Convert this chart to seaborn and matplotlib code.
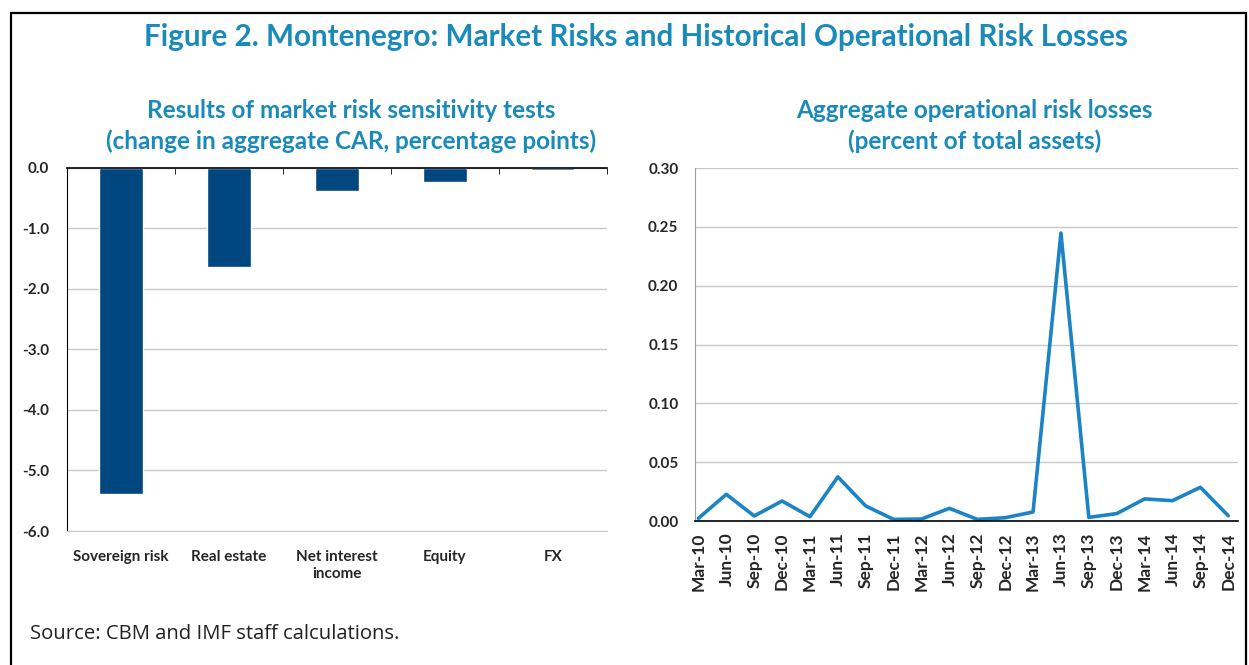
import numpy as np
import seaborn as sns
import matplotlib.pyplot as plt
from matplotlib.patches import Rectangle

# data
risk_types = ["Sovereign risk", "Real estate", "Net interest\nincome", "Equity", "FX"]
car_change = [-5.39, -1.64, -0.38, -0.23, -0.03]

quarters = ["Mar-10", "Jun-10", "Sep-10", "Dec-10", "Mar-11", "Jun-11", "Sep-11", "Dec-11",
            "Mar-12", "Jun-12", "Sep-12", "Dec-12", "Mar-13", "Jun-13", "Sep-13", "Dec-13",
            "Mar-14", "Jun-14", "Sep-14", "Dec-14"]
op_losses = [0.0023, 0.0227, 0.0043, 0.0170, 0.0037, 0.0375, 0.0128, 0.0014,
             0.0017, 0.0108, 0.0014, 0.0028, 0.0077, 0.2447, 0.0031, 0.0063,
             0.0188, 0.0173, 0.0287, 0.0045]

sns.set_style("white")
plt.rcParams['font.family'] = ['Lato', 'DejaVu Sans']

title_col = "#1a8abb"
bar_col = "#00467f"
line_col = "#1b84c4"
grid_col = "#c8c8c8"

fig = plt.figure(figsize=(12.49, 6.65), dpi=100)

fig.patches.append(Rectangle((0.0088, -0.02), 0.989, 1.0, transform=fig.transFigure,
                             fill=False, edgecolor="black", linewidth=1.6))

fig.text(0.509, 0.945, "Figure 2. Montenegro: Market Risks and Historical Operational Risk Losses",
         ha="center", va="center", fontsize=21.3, fontweight="bold", color=title_col)
fig.text(0.281, 0.811, "Results of market risk sensitivity tests\n(change in aggregate CAR, percentage points)",
         ha="center", va="center", fontsize=17.5, fontweight="bold", color=title_col, linespacing=1.38)
fig.text(0.780, 0.811, "Aggregate operational risk losses\n(percent of total assets)",
         ha="center", va="center", fontsize=17.5, fontweight="bold", color=title_col, linespacing=1.38)
fig.text(0.024, 0.047, "Source: CBM and IMF staff calculations.", ha="left", va="center",
         fontsize=14.6, color="#222222", family=['Open Sans', 'DejaVu Sans'])

# left panel: bars
ax1 = fig.add_axes([0.0536, 0.2015, 0.4323, 0.546])
sns.barplot(x=risk_types, y=car_change, color=bar_col, width=0.4, saturation=1, ax=ax1)
ax1.set_ylim(-6, 0)
ax1.set_xlim(-0.5, len(risk_types) - 0.5)
ax1.set_yticks(np.arange(-6, 0.1, 1))
ax1.set_yticklabels([f"{v:.1f}" for v in np.arange(-6, 0.1, 1)])
ax1.yaxis.grid(True, color=grid_col, linewidth=1)
ax1.set_axisbelow(True)
ax1.spines["right"].set_visible(False)
ax1.spines["left"].set_color("black")
ax1.spines["top"].set_color("black")
ax1.spines["top"].set_linewidth(1.2)
ax1.spines["bottom"].set_color(grid_col)
ax1.tick_params(axis="y", length=5, color="black", labelsize=11, pad=8)
ax1.tick_params(axis="x", length=0, labelsize=11, pad=14)
ax1.set_xticks(np.arange(-0.5, len(risk_types), 1), minor=True)
ax1.tick_params(axis="x", which="minor", top=True, bottom=False, direction="in", length=4, color="black")
for lab in ax1.get_xticklabels() + ax1.get_yticklabels():
    lab.set_fontweight("bold")

# right panel: line
ax2 = fig.add_axes([0.5565, 0.2165, 0.4347, 0.5308])
xs = np.arange(len(quarters))
sns.lineplot(x=xs, y=op_losses, color=line_col, linewidth=2.6, ax=ax2)
ax2.set_ylim(0, 0.30)
ax2.set_xlim(-0.12, len(quarters) - 0.65)
ax2.set_yticks(np.arange(0, 0.31, 0.05))
ax2.set_yticklabels([f"{v:.2f}" for v in np.arange(0, 0.31, 0.05)])
ax2.set_xticks(xs)
ax2.set_xticklabels(quarters, rotation=90)
ax2.yaxis.grid(True, color=grid_col, linewidth=1)
ax2.set_axisbelow(True)
ax2.spines["right"].set_visible(False)
ax2.spines["top"].set_visible(False)
ax2.spines["left"].set_color("#a0a0a0")
ax2.spines["bottom"].set_color("black")
ax2.spines["bottom"].set_linewidth(1.2)
ax2.tick_params(axis="y", length=4, color="#a0a0a0", labelsize=11, pad=8)
ax2.tick_params(axis="x", length=5, color="#808080", labelsize=12.5, pad=3)
for lab in ax2.get_xticklabels() + ax2.get_yticklabels():
    lab.set_fontweight("bold")

fig.savefig("out.png", dpi=100)
